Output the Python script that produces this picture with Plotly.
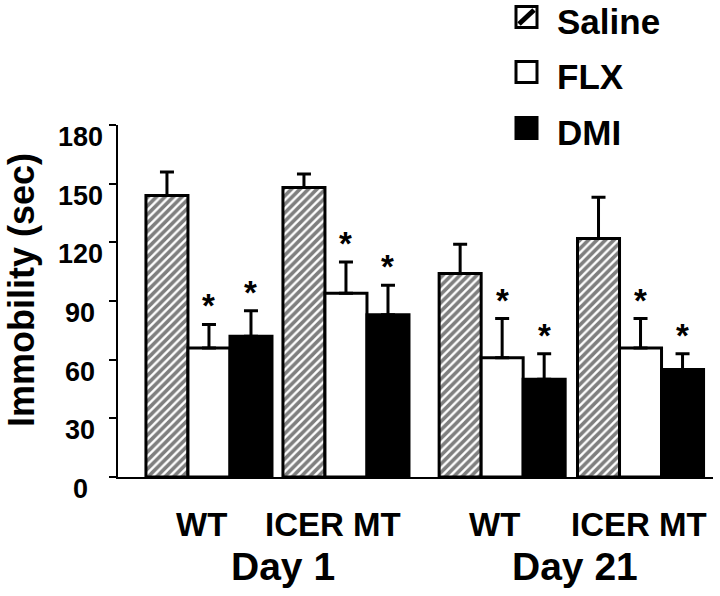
import plotly.graph_objects as go

# ---- data ----
groups = ["WT Day 1", "ICER MT Day 1", "WT Day 21", "ICER MT Day 21"]
series = ["Saline", "FLX", "DMI"]
saline = [144, 148, 104, 122]
saline_err = [12, 7, 15, 21]
flx = [66, 94, 61, 66]
flx_err = [12, 16, 20, 15]
dmi = [72, 83, 50, 55]
dmi_err = [13, 15, 13, 8]
stars_flx = [True, True, True, True]
stars_dmi = [True, True, True, True]
y_ticks = [0, 30, 60, 90, 120, 150, 180]
genotype_labels = ["WT", "ICER MT", "WT", "ICER MT"]
day_labels = ["Day 1", "Day 21"]

# ---- layout constants ----
W, H = 720, 596
ML, MR, MT, MB = 118, 7, 125, 119
PW, PH = W - ML - MR, H - MT - MB
group_pos = [0, 1, 2.14, 3.15]
bargap = 0.08
FONT = "Liberation Sans, Arial, Helvetica, sans-serif"

def px_x(px):
    return (px - ML) / PW

def px_y(py):
    return (H - MB - py) / PH

fig = go.Figure()
vals = [saline, flx, dmi]
errs = [saline_err, flx_err, dmi_err]
markers = [
    dict(color="white", line=dict(color="black", width=3),
         pattern=dict(shape="/", fgcolor="black", bgcolor="white", size=6, solidity=0.6)),
    dict(color="white", line=dict(color="black", width=3)),
    dict(color="black", line=dict(color="black", width=3)),
]
for i, name in enumerate(series):
    fig.add_trace(go.Bar(
        x=group_pos, y=vals[i], name=name, marker=markers[i], showlegend=False,
        error_y=dict(type="data", array=errs[i], arrayminus=[0] * len(errs[i]),
                     symmetric=False, color="black", thickness=3, width=7),
    ))

# significance stars
bw = (1 - bargap) / 3
for i, flags in [(1, stars_flx), (2, stars_dmi)]:
    for g, f in enumerate(flags):
        if f:
            fig.add_annotation(x=group_pos[g] + (i - 1) * bw, y=vals[i][g] + errs[i][g],
                               xref="x", yref="y", text="<b>*</b>", showarrow=False,
                               yanchor="bottom", yshift=-2,
                               font=dict(family=FONT, size=33, color="black"))

# y tick labels (drawn slightly below their ticks, as in the source)
for v in y_ticks:
    fig.add_annotation(x=px_x(80), y=v, xref="paper", yref="y", text=f"<b>{v}</b>",
                       showarrow=False, xanchor="center", yanchor="middle", yshift=-12,
                       font=dict(family=FONT, size=27, color="black"))

# x labels
geno_px = [201, 333, 494, 639]
for lbl, px in zip(genotype_labels, geno_px):
    fig.add_annotation(x=px_x(px), y=px_y(524), xref="paper", yref="paper", text=f"<b>{lbl}</b>",
                       showarrow=False, xanchor="center", yanchor="middle",
                       font=dict(family=FONT, size=33, color="black"))
day_px = [283, 575]
for lbl, px in zip(day_labels, day_px):
    fig.add_annotation(x=px_x(px), y=px_y(566), xref="paper", yref="paper", text=f"<b>{lbl}</b>",
                       showarrow=False, xanchor="center", yanchor="middle",
                       font=dict(family=FONT, size=39, color="black"))

# y title
fig.add_annotation(x=px_x(21), y=px_y(290), xref="paper", yref="paper",
                   text="<b>Immobility (sec)</b>", textangle=-90, showarrow=False,
                   xanchor="center", yanchor="middle", borderpad=0,
                   font=dict(family=FONT, size=36, color="black"))

# legend (drawn manually)
leg_cy = [17, 72, 128]
sq = 21
for k, name in enumerate(series):
    cy = leg_cy[k]
    x0, x1 = px_x(516), px_x(516 + sq)
    y0, y1 = px_y(cy + sq / 2), px_y(cy - sq / 2)
    fill = "black" if name == "DMI" else "white"
    fig.add_shape(type="rect", xref="paper", yref="paper", x0=x0, x1=x1, y0=y0, y1=y1,
                  fillcolor=fill, line=dict(color="black", width=3))
    if name == "Saline":
        fig.add_shape(type="line", xref="paper", yref="paper",
                      x0=px_x(519), x1=px_x(534), y0=px_y(cy + 7), y1=px_y(cy - 7),
                      line=dict(color="black", width=5))
    fig.add_annotation(x=px_x(556), y=px_y(cy + 4), xref="paper", yref="paper",
                       text=f"<b>{name}</b>", showarrow=False, xanchor="left", yanchor="middle",
                       borderpad=0,
                       font=dict(family=FONT, size=35, color="black"))

fig.update_layout(
    width=W, height=H, margin=dict(l=ML, r=MR, t=MT, b=MB),
    paper_bgcolor="white", plot_bgcolor="white",
    barmode="group", bargap=bargap, bargroupgap=0,
    showlegend=False,
    xaxis=dict(range=[-0.664, 3.679], showline=True, linecolor="black", linewidth=2,
               showticklabels=False, ticks="", showgrid=False, zeroline=False),
    yaxis=dict(range=[0, 180], tickvals=y_ticks, showline=True, linecolor="black", linewidth=2,
               ticks="outside", ticklen=7, tickwidth=2, tickcolor="black",
               showticklabels=False, showgrid=False, zeroline=False, automargin=False),
)

fig.write_html("out.html", config={"displayModeBar": False},
               post_script="document.body.style.margin='0';document.body.style.overflow='hidden';")
